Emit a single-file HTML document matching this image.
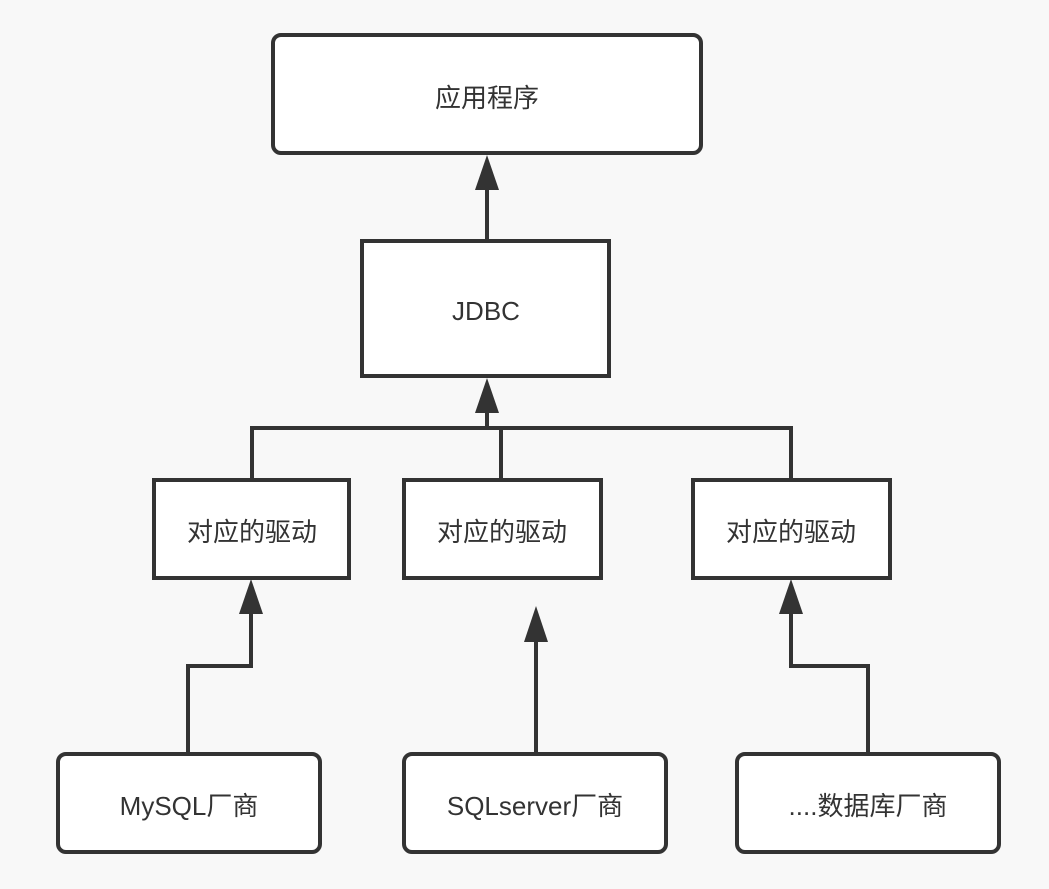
<!DOCTYPE html>
<html><head><meta charset="utf-8"><style>
html,body{margin:0;padding:0;background:#f8f8f8;}
svg{display:block;}
text{font-family:"Liberation Sans","Noto Sans CJK SC",sans-serif;font-size:26px;fill:#333;text-anchor:middle;dominant-baseline:central;}
</style></head><body>
<svg width="1049" height="889" viewBox="0 0 1049 889">
<rect width="1049" height="889" fill="#f8f8f8"/>
<g stroke="#333" stroke-width="4" fill="#fff">
<rect x="273" y="35" width="428" height="118" rx="8"/>
<rect x="362" y="241" width="247" height="135"/>
<rect x="154" y="480" width="195" height="98"/>
<rect x="404" y="480" width="197" height="98"/>
<rect x="693" y="480" width="197" height="98"/>
<rect x="58" y="754" width="262" height="98" rx="8"/>
<rect x="404" y="754" width="262" height="98" rx="8"/>
<rect x="737" y="754" width="262" height="98" rx="8"/>
</g>
<g stroke="#333" stroke-width="4" fill="none">
<path d="M487 241 V185"/>
<path d="M487 428 V405"/>
<path d="M252 480 V428 H791 V480"/>
<path d="M501 428 V480"/>
<path d="M188 754 V666 H251 V608"/>
<path d="M536 754 V636"/>
<path d="M868 754 V666 H791 V608"/>
</g>
<g fill="#333">
<polygon points="487,155 475,190 499,190"/>
<polygon points="487,378 475,413 499,413"/>
<polygon points="251,579 239,614 263,614"/>
<polygon points="536,606 524,642 548,642"/>
<polygon points="791,579 779,614 803,614"/>
</g>
<text x="487" y="98">应用程序</text>
<text x="486" y="311">JDBC</text>
<text x="252" y="532">对应的驱动</text>
<text x="502" y="532">对应的驱动</text>
<text x="791" y="532">对应的驱动</text>
<text x="189" y="806">MySQL厂商</text>
<text x="535" y="806">SQLserver厂商</text>
<text x="868" y="806">....数据库厂商</text>
</svg>
</body></html>
